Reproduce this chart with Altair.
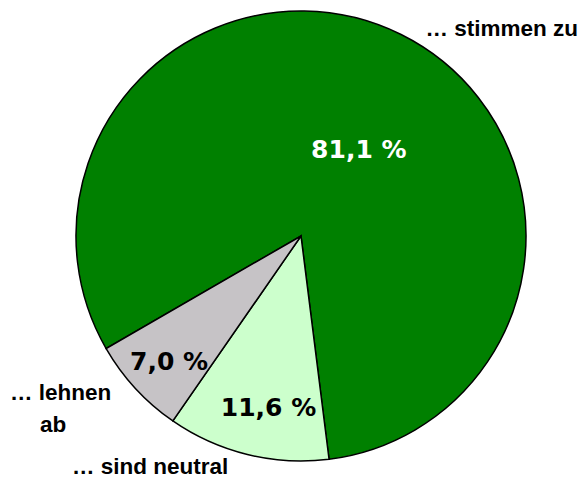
import math
import altair as alt
import pandas as pd

categories = ["… stimmen zu", "… sind neutral", "… lehnen ab"]
values = [81.1, 11.6, 7.0]
pct_labels = ["81,1 %", "11,6 %", "7,0 %"]
colors = ["#008000", "#CCFFCC", "#C6C3C6"]

df = pd.DataFrame({
    "cat": categories,
    "value": values,
    "pct": pct_labels,
    "order": [0, 1, 2],
})

start = math.radians(240)
cx, cy, R = 293, 228, 225

base = alt.Chart(df).encode(
    theta=alt.Theta("value:Q", stack=True,
                    scale=alt.Scale(range=[start, start + 2 * math.pi])),
    order=alt.Order("order:Q"),
    x=alt.value(cx),
    y=alt.value(cy),
)

arcs = base.mark_arc(radius=R, stroke="black", strokeWidth=1.5).encode(
    color=alt.Color("cat:N", scale=alt.Scale(domain=categories, range=colors), legend=None)
)

def pct_layer(i, r, col, dx, dy):
    return base.mark_text(radius=r, font="DejaVu Sans", fontWeight="bold",
                          fontSize=25, color=col, dx=dx, dy=dy).encode(
        text=alt.condition(alt.datum.cat == categories[i], "pct:N", alt.value(""))
    )

t0 = pct_layer(0, 103, "white", 12, 6)
t1 = pct_layer(1, 174, "black", 9, 3)
t2 = pct_layer(2, 182, "black", 2, 3)

outer_font = dict(font="Liberation Sans", fontWeight="bold", fontSize=22.5,
                  color="black", baseline="alphabetic")

lbl_zu = alt.Chart(df).transform_filter(alt.datum.order == 0).mark_text(
    align="right", **outer_font).encode(text="cat:N", x=alt.value(570), y=alt.value(28))
lbl_neu = alt.Chart(df).transform_filter(alt.datum.order == 1).mark_text(
    align="left", **outer_font).encode(text="cat:N", x=alt.value(64), y=alt.value(466))
lbl_ab1 = alt.Chart(df).transform_filter(alt.datum.order == 2).mark_text(
    align="left", **outer_font).encode(text=alt.value("… lehnen"), x=alt.value(2), y=alt.value(392))
lbl_ab2 = alt.Chart(df).transform_filter(alt.datum.order == 2).mark_text(
    align="left", **outer_font).encode(text=alt.value("ab"), x=alt.value(32), y=alt.value(424))

chart = alt.layer(arcs, t0, t1, t2, lbl_zu, lbl_neu, lbl_ab1, lbl_ab2).properties(
    width=571, height=470, padding=0, autosize=alt.AutoSizeParams(type="none"),
    background="white",
).configure_view(stroke=None)

chart.save("out.html", embed_options={"renderer": "svg", "actions": False})
